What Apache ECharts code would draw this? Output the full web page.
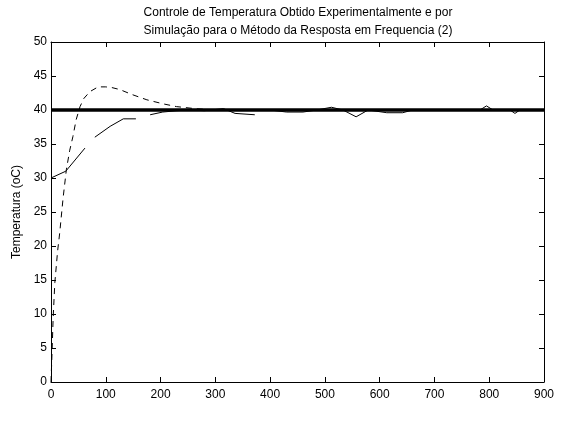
<!DOCTYPE html>
<html>
<head>
<meta charset="utf-8">
<script src="https://cdn.jsdelivr.net/npm/echarts@6/dist/echarts.min.js"></script>
<style>
  html, body { margin: 0; padding: 0; background: #fff; }
  #chart { width: 562px; height: 425px; }
</style>
</head>
<body>
<div id="chart"></div>
<script>
// Simulated closed-loop response (dashed)
const simTime = [0, 2, 4, 7, 12, 16, 22, 28, 34, 40, 46, 53, 60, 71, 86, 100, 111, 126, 147, 175, 205, 229, 263, 300, 350, 400, 500, 600, 700, 800, 900];
const simTemp = [0, 4.6, 9.6, 14.6, 19.2, 22.0, 27.0, 31.2, 34.0, 36.1, 38.6, 40.5, 41.7, 42.7, 43.4, 43.4, 43.3, 43.0, 42.3, 41.5, 40.9, 40.5, 40.2, 40.0, 40.0, 40.0, 40.0, 40.0, 40.0, 40.0, 40.0];

// Measured temperature (solid); '-' marks missing samples
const expTime = [0, 27, 62, 70, 80, 108, 132, 155, 168, 181, 204, 230, 255, 280, 315, 336, 372, 385, 400, 430, 460, 485, 512, 533, 557, 579, 613, 642, 660, 690, 720, 750, 783, 795, 807, 838, 847, 856, 880, 900];
const expTemp = [30.0, 31.0, 34.4, '-', 36.0, 37.6, 38.7, 38.7, '-', 39.3, 39.7, 39.9, 40.0, 39.9, 40.2, 39.5, 39.3, '-', 40.0, 39.7, 39.7, 40.0, 40.4, 40.0, 39.0, 40.0, 39.6, 39.6, 40.0, 40.0, 40.0, 40.0, 40.0, 40.6, 40.0, 40.0, 39.5, 40.0, 40.0, 40.0];

// Setpoint reference (thick line)
const refTime = [0, 900];
const refTemp = [40, 40];

const xTicks = { min: 0, max: 900, step: 100 };
const yTicks = { min: 0, max: 50, step: 5 };

const titleLines = ['Controle de Temperatura Obtido Experimentalmente e por', 'Simulação para o Método da Resposta em Frequencia (2)'];
const yName = 'Temperatura (oC)';

const zip = (a, b) => a.map((v, i) => [v, b[i]]);
const FONT = '"Liberation Sans", Arial, Helvetica, sans-serif';
const FS = 12;

const baseAxis = {
  axisLine: { show: true, onZero: false, lineStyle: { color: '#000', width: 1 } },
  axisTick: { show: true, inside: true, length: 5, lineStyle: { color: '#000', width: 1 } },
  splitLine: { show: false },
  axisLabel: { color: '#000', fontSize: FS, fontFamily: FONT }
};

const chart = echarts.init(document.getElementById('chart'), null, { renderer: 'canvas' });
chart.setOption({
  animation: false,
  backgroundColor: '#fff',
  graphic: [
    {
      type: 'text', x: 298, y: 4, silent: true,
      style: {
        text: titleLines.join('\n'), align: 'center', verticalAlign: 'top',
        fontSize: FS, fontFamily: FONT, fill: '#000', lineHeight: 18
      }
    }
  ],
  grid: { left: 51, right: 18, top: 42, bottom: 43, containLabel: false },
  xAxis: [
    Object.assign({}, baseAxis, { type: 'value', position: 'bottom', min: xTicks.min, max: xTicks.max, interval: xTicks.step,
      axisLabel: Object.assign({}, baseAxis.axisLabel, { margin: 7 }) }),
    Object.assign({}, baseAxis, { type: 'value', position: 'top', min: xTicks.min, max: xTicks.max, interval: xTicks.step,
      axisLabel: { show: false } })
  ],
  yAxis: [
    Object.assign({}, baseAxis, { type: 'value', position: 'left', min: yTicks.min, max: yTicks.max, interval: yTicks.step,
      name: yName, nameLocation: 'middle', nameGap: 27, nameRotate: 90,
      nameTextStyle: { color: '#000', fontSize: FS, fontFamily: FONT },
      axisLabel: Object.assign({}, baseAxis.axisLabel, { margin: 4 }) }),
    Object.assign({}, baseAxis, { type: 'value', position: 'right', min: yTicks.min, max: yTicks.max, interval: yTicks.step,
      axisLabel: { show: false } })
  ],
  series: [
    {
      name: 'Referência', type: 'line', data: zip(refTime, refTemp), showSymbol: false, silent: true,
      lineStyle: { color: '#000', width: 3.5 }, z: 3
    },
    {
      name: 'Simulação', type: 'line', data: zip(simTime, simTemp), showSymbol: false, silent: true,
      lineStyle: { color: '#000', width: 1, type: [6, 5] }, z: 4
    },
    {
      name: 'Experimental', type: 'line', data: zip(expTime, expTemp), showSymbol: false, silent: true,
      connectNulls: false,
      lineStyle: { color: '#000', width: 1 }, z: 5
    }
  ]
});
</script>
</body>
</html>
